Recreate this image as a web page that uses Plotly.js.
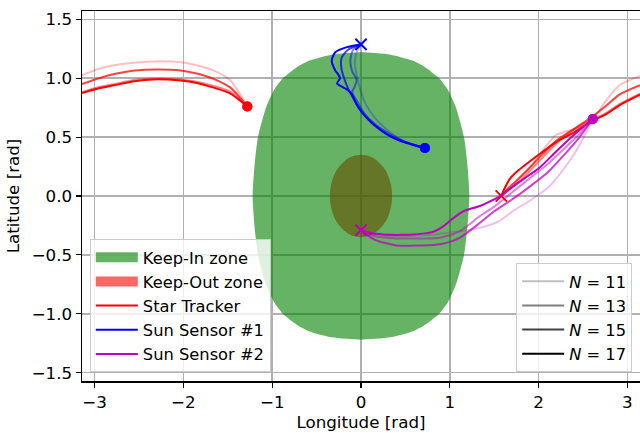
<!DOCTYPE html>
<html><head><meta charset="utf-8">
<script src="https://cdn.plot.ly/plotly-3.0.1.min.js"></script>
<style>html,body{margin:0;padding:0;background:#fff}#chart{width:640px;height:433px}</style>
</head><body><div id="chart"></div>
<script>
// ---- data ----
const nValues = [11, 13, 15, 17];
const nAlphas = [0.25, 0.5, 0.75, 1.0];
const xTickVals = [-3, -2, -1, 0, 1, 2, 3];
const yTickVals = [-1.5, -1.0, -0.5, 0.0, 0.5, 1.0, 1.5];

// Keep-In zone boundary (north-east quadrant, mirrored)
const keepInLat     = [1.22, 1.20, 1.15, 1.10, 1.00, 0.90, 0.75, 0.50, 0.25, 0.00];
const keepInHalfLon = [0.00, 0.33, 0.58, 0.71, 0.88, 0.98, 1.07, 1.16, 1.20, 1.22];
// Keep-Out zone boundary
const keepOutLat     = [0.35, 0.34, 0.32, 0.30, 0.25, 0.20, 0.15, 0.10, 0.05, 0.00];
const keepOutHalfLon = [0.00, 0.085, 0.145, 0.18, 0.245, 0.29, 0.317, 0.336, 0.347, 0.35];

// Star Tracker trajectories (N = 11, 13, 15, 17)
const starLon = [
  [1.58, 1.70, 1.85, 2.00, 2.10, 2.20, 2.31, 2.46, 2.60, 2.75, 2.91, 3.1416, null, -3.1416, -2.95, -2.78, -2.41, -2.03, -1.85, -1.66, -1.47, -1.28],
  [1.58, 1.66, 1.78, 1.95, 2.15, 2.35, 2.57, 2.75, 2.91, 3.1416, null, -3.1416, -2.95, -2.78, -2.55, -2.34, -2.03, -1.85, -1.66, -1.47, -1.28],
  [1.58, 1.65, 1.75, 1.90, 2.05, 2.20, 2.40, 2.57, 2.75, 2.91, 3.1416, null, -3.1416, -2.95, -2.78, -2.55, -2.30, -2.03, -1.85, -1.66, -1.47, -1.28],
  [1.58, 1.62, 1.68, 1.76, 1.86, 2.00, 2.20, 2.40, 2.57, 2.75, 2.91, 3.1416, null, -3.1416, -2.95, -2.78, -2.55, -2.34, -2.03, -1.85, -1.66, -1.47, -1.28]
];
const starLat = [
  [0.00, 0.08, 0.20, 0.34, 0.44, 0.52, 0.55, 0.58, 0.64, 0.80, 0.94, 1.02, null, 1.025, 1.08, 1.11, 1.14, 1.136, 1.11, 1.066, 0.98, 0.76],
  [0.00, 0.05, 0.12, 0.25, 0.41, 0.54, 0.64, 0.70, 0.78, 0.87, null, 0.88, 0.925, 0.95, 0.985, 0.995, 0.99, 0.97, 0.935, 0.885, 0.76],
  [0.00, 0.06, 0.13, 0.24, 0.36, 0.47, 0.57, 0.655, 0.76, 0.86, 0.94, null, 0.95, 1.00, 1.035, 1.065, 1.075, 1.066, 1.04, 0.995, 0.92, 0.76],
  [0.00, 0.07, 0.15, 0.21, 0.27, 0.35, 0.46, 0.54, 0.625, 0.69, 0.77, 0.86, null, 0.875, 0.915, 0.94, 0.975, 0.99, 0.98, 0.96, 0.92, 0.87, 0.76]
];

// Sun Sensor #1 trajectories
const sun1Lon = [
  [0.00, -0.05, -0.07, -0.04, 0.00, 0.06, 0.15, 0.28, 0.42, 0.58, 0.72],
  [0.00, -0.09, -0.12, -0.10, -0.05, -0.07, -0.10, -0.04, 0.04, 0.16, 0.32, 0.50, 0.64, 0.72],
  [0.00, -0.15, -0.22, -0.22, -0.19, -0.15, -0.08, 0.00, 0.12, 0.28, 0.45, 0.62, 0.72],
  [0.00, -0.16, -0.29, -0.33, -0.29, -0.255, -0.236, -0.27, -0.22, -0.16, -0.105, -0.05, 0.026, 0.14, 0.29, 0.44, 0.63, 0.72]
];
const sun1Lat = [
  [1.287, 1.22, 1.12, 1.00, 0.88, 0.77, 0.67, 0.57, 0.49, 0.43, 0.407],
  [1.287, 1.24, 1.15, 1.06, 0.99, 0.93, 0.88, 0.80, 0.70, 0.61, 0.53, 0.46, 0.42, 0.407],
  [1.287, 1.24, 1.17, 1.08, 1.00, 0.92, 0.82, 0.72, 0.62, 0.53, 0.47, 0.43, 0.407],
  [1.287, 1.264, 1.22, 1.15, 1.066, 1.03, 1.00, 0.955, 0.93, 0.905, 0.867, 0.78, 0.697, 0.611, 0.526, 0.469, 0.426, 0.407]
];

// Sun Sensor #2 trajectories
const sun2Lon = [
  [0.00, 0.30, 0.665, 0.89, 1.11, 1.34, 1.55, 1.71, 1.90, 2.01, 2.12, 2.24, 2.42, 2.61],
  [0.00, 0.15, 0.40, 0.665, 0.89, 1.11, 1.34, 1.50, 1.70, 1.90, 2.10, 2.30, 2.45, 2.61],
  [0.00, 0.15, 0.40, 0.665, 0.89, 1.11, 1.34, 1.50, 1.70, 1.90, 2.10, 2.30, 2.45, 2.61],
  [0.00, 0.10, 0.25, 0.45, 0.63, 0.81, 0.93, 1.02, 1.15, 1.34, 1.47, 1.60, 1.71, 1.90, 2.01, 2.20, 2.40, 2.61]
];
const sun2Lat = [
  [-0.29, -0.34, -0.335, -0.32, -0.30, -0.27, -0.215, -0.128, -0.04, 0.017, 0.08, 0.187, 0.38, 0.654],
  [-0.29, -0.34, -0.36, -0.36, -0.355, -0.30, -0.17, -0.09, 0.03, 0.15, 0.27, 0.41, 0.52, 0.654],
  [-0.29, -0.37, -0.42, -0.42, -0.41, -0.355, -0.227, -0.13, -0.03, 0.08, 0.20, 0.36, 0.49, 0.654],
  [-0.29, -0.315, -0.327, -0.33, -0.325, -0.305, -0.256, -0.20, -0.13, -0.085, -0.04, 0.015, 0.08, 0.18, 0.24, 0.38, 0.52, 0.654]
];

const sensorNames = ['Star Tracker', 'Sun Sensor #1', 'Sun Sensor #2'];
const sensorRGB = ['255,0,0', '0,0,255', '191,0,191'];
const zoneNames = ['Keep-In zone', 'Keep-Out zone'];
const zoneRGBA = ['rgba(0,128,0,0.6)', 'rgba(255,0,0,0.6)'];

// ---- build traces ----
function mirrorPolygon(lat, half) {
  const xs = [], ys = [];
  for (let i = 0; i < lat.length; i++) { xs.push(half[i]); ys.push(lat[i]); }
  for (let i = lat.length - 2; i >= 0; i--) { xs.push(half[i]); ys.push(-lat[i]); }
  for (let i = 1; i < lat.length; i++) { xs.push(-half[i]); ys.push(-lat[i]); }
  for (let i = lat.length - 2; i >= 0; i--) { xs.push(-half[i]); ys.push(lat[i]); }
  return {xs, ys};
}

const traces = [];
const ko = mirrorPolygon(keepOutLat, keepOutHalfLon);
const ki = mirrorPolygon(keepInLat, keepInHalfLon);
traces.push({x: ko.xs, y: ko.ys, mode: 'lines', fill: 'toself', fillcolor: zoneRGBA[1],
  line: {width: 0, shape: 'spline', smoothing: 0.6}, showlegend: false, hoverinfo: 'skip'});
traces.push({x: ki.xs, y: ki.ys, mode: 'lines', fill: 'toself', fillcolor: zoneRGBA[0],
  line: {width: 0, shape: 'spline', smoothing: 0.6}, showlegend: false, hoverinfo: 'skip'});

const allLon = [starLon, sun1Lon, sun2Lon];
const allLat = [starLat, sun1Lat, sun2Lat];
for (let s = 0; s < 3; s++) {
  for (let k = 0; k < nValues.length; k++) {
    const col = 'rgba(' + sensorRGB[s] + ',' + nAlphas[k] + ')';
    const lon = allLon[s][k], lat = allLat[s][k];
    traces.push({x: lon, y: lat, mode: 'lines', line: {color: col, width: 2, shape: 'spline', smoothing: 0.7},
      showlegend: false, connectgaps: false, hoverinfo: 'skip'});
    traces.push({x: [lon[0]], y: [lat[0]], mode: 'markers',
      marker: {symbol: 'x-thin', size: 11, line: {color: col, width: 1.6}}, showlegend: false, hoverinfo: 'skip'});
    traces.push({x: [lon[lon.length - 1]], y: [lat[lat.length - 1]], mode: 'markers',
      marker: {symbol: 'circle', size: 10, color: col, line: {width: 0}}, showlegend: false, hoverinfo: 'skip'});
  }
}

// legend entries
for (let z = 0; z < 2; z++) {
  traces.push({x: [null], y: [null], mode: 'lines', name: zoneNames[z], legend: 'legend',
    line: {color: zoneRGBA[z], width: 10}});
}
for (let s = 0; s < 3; s++) {
  traces.push({x: [null], y: [null], mode: 'lines', name: sensorNames[s], legend: 'legend',
    line: {color: 'rgb(' + sensorRGB[s] + ')', width: 2}});
}
for (let k = 0; k < nValues.length; k++) {
  traces.push({x: [null], y: [null], mode: 'lines', name: '<i>N</i> = ' + nValues[k], legend: 'legend2',
    line: {color: 'rgba(0,0,0,' + nAlphas[k] + ')', width: 2}});
}

const font = {family: 'DejaVu Sans', size: 16.7, color: '#000'};
const legendFont = {family: 'DejaVu Sans', size: 16.3, color: '#000'};
const legendBase = {bgcolor: 'rgba(255,255,255,0.8)', bordercolor: '#cccccc', borderwidth: 1,
  font: legendFont, itemwidth: 42, yanchor: 'bottom', y: 0.024};

const layout = {
  width: 640, height: 433,
  margin: {l: 82, r: 0, t: 11, b: 52, pad: 0},
  paper_bgcolor: '#fff', plot_bgcolor: '#fff',
  font: font,
  xaxis: {range: [-Math.PI, Math.PI], tickvals: xTickVals, showgrid: true, gridcolor: '#b0b0b0', gridwidth: 1.5,
    zeroline: false, showline: true, linecolor: '#000', linewidth: 1.5, mirror: true,
    ticks: 'outside', ticklen: 5, tickwidth: 1.2, tickcolor: '#000', tickfont: font,
    title: {text: 'Longitude [rad]', font: font, standoff: 6}, automargin: false},
  yaxis: {range: [-Math.PI / 2, Math.PI / 2], tickvals: yTickVals, tickformat: '.1f', showgrid: true, gridcolor: '#b0b0b0', gridwidth: 1.5,
    zeroline: false, showline: true, linecolor: '#000', linewidth: 1.5, mirror: true,
    ticks: 'outside', ticklen: 5, tickwidth: 1.2, tickcolor: '#000', tickfont: font,
    title: {text: 'Latitude [rad]', font: font, standoff: 8}, automargin: false},
  legend: Object.assign({}, legendBase, {x: 0.014, xanchor: 'left'}),
  legend2: Object.assign({}, legendBase, {x: 0.986, xanchor: 'right'}),
  showlegend: true
};

Plotly.newPlot('chart', traces, layout, {staticPlot: true, displayModeBar: false});
</script>
</body></html>
